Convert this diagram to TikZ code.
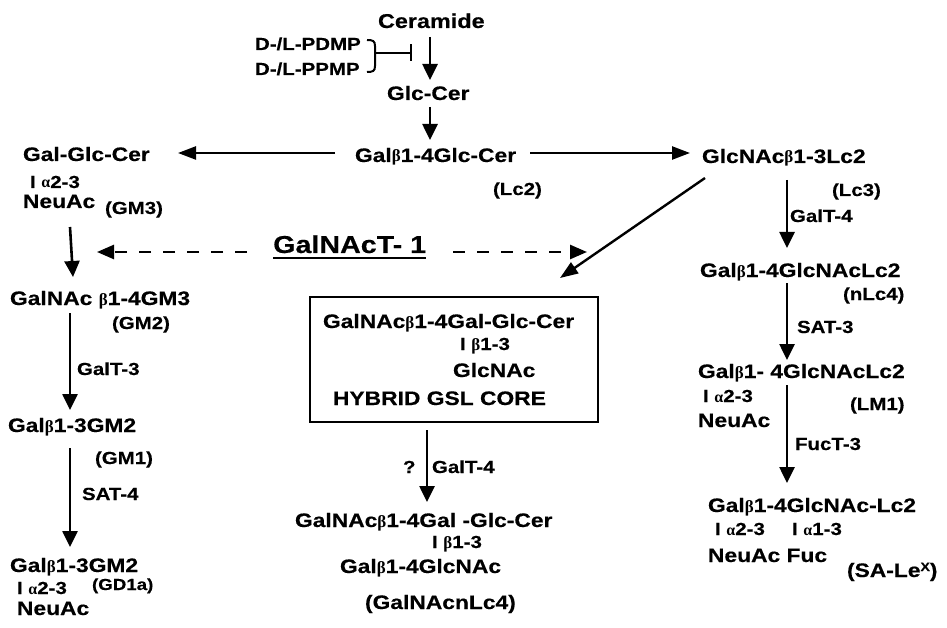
\documentclass[tikz,border=0pt]{standalone}
\usepackage{fontspec}
\setmainfont{Liberation Sans}[FakeStretch=1.17, BoldFeatures={FakeBold=0.4}]
\newfontfamily\grk{Liberation Serif}
\usetikzlibrary{arrows.meta}
\newcommand\gb{{\grk\bfseries\fontsize{17}{17}\selectfont β}}
\newcommand\ga{{\grk\bfseries\fontsize{16}{16}\selectfont α}}
\tikzset{
  big/.style={anchor=base west, inner sep=0pt, outer sep=0pt, font=\bfseries\fontsize{19.5}{21}\selectfont},
  sml/.style={anchor=base west, inner sep=0pt, outer sep=0pt, font=\bfseries\fontsize{17.5}{19}\selectfont},
  arr/.style={line width=2.6pt, -{Triangle[length=16pt,width=15pt]}},
  harr/.style={line width=2.4pt, -{Triangle[length=18pt,width=13pt]}},
  darr/.style={line width=2.6pt, dash pattern=on 12pt off 12pt, -{Triangle[length=17pt,width=14pt]}},
  corebox/.style={draw, line width=2.4pt, minimum width=288pt, minimum height=125pt, inner sep=0pt, outer sep=0pt},
}
\begin{document}
\begin{tikzpicture}[x=1pt,y=-1pt]
\useasboundingbox (0,0) rectangle (947,628);
% top
\node[big, font=\bfseries\fontsize{20}{21}\selectfont] (cer) at (378,28) {Ceramide};
\node[sml] (pdmp) at (255,50) {D-/L-PDMP};
\node[sml] (ppmp) at (255,75) {D-/L-PPMP};
\node[big] (glc) at (387,100) {Glc-Cer};
\node[big] (gal4) at (355,162) {Gal\gb1-4Glc-Cer};
\node[sml] (lc2) at (493,195) {(Lc2)};
% left column
\node[big] (galglc) at (23,161) {Gal-Glc-Cer};
\node[sml] (l1) at (30,188) {I \ga2-3};
\node[big] (neu1) at (23,208) {NeuAc};
\node[sml] (gm3) at (105,214) {(GM3)};
\node[big] (galnac) at (10,305) {GalNAc \gb1-4GM3};
\node[sml] (gm2) at (112,329) {(GM2)};
\node[sml] (galt3) at (77,375) {GalT-3};
\node[big] (gm1n) at (8,432) {Gal\gb1-3GM2};
\node[sml] (gm1) at (95,464) {(GM1)};
\node[sml] (sat4) at (82,500) {SAT-4};
\node[big] (gd) at (10,572) {Gal\gb1-3GM2};
\node[sml] (l2) at (17,594) {I \ga2-3};
\node[sml, font=\bfseries\fontsize{16}{18}\selectfont] (gd1a) at (92,590) {(GD1a)};
\node[big] (neu2) at (17,615) {NeuAc};
% enzyme
\node[anchor=base west, inner sep=0pt, font=\bfseries\fontsize{24.5}{26}\selectfont] (gnt) at (273,253) {GalNAcT- 1};
% right column
\node[big] (glcnac) at (702,163) {GlcNAc\gb1-3Lc2};
\node[sml] (lc3) at (832,196) {(Lc3)};
\node[sml] (galt4) at (790,222) {GalT-4};
\node[big] (nlc4n) at (700,277) {Gal\gb1-4GlcNAcLc2};
\node[sml] (nlc4) at (843,300) {(nLc4)};
\node[sml] (sat3) at (797,333) {SAT-3};
\node[big] (lm1n) at (698,378) {Gal\gb1- 4GlcNAcLc2};
\node[sml] (l3) at (703,402) {I \ga2-3};
\node[big] (neu3) at (698,427) {NeuAc};
\node[sml] (lm1) at (850,410) {(LM1)};
\node[sml] (fuct) at (795,450) {FucT-3};
\node[big] (salex) at (708,512) {Gal\gb1-4GlcNAc-Lc2};
\node[sml] (l4) at (715,535) {I \ga2-3};
\node[sml] (l5) at (792,535) {I \ga1-3};
\node[big] (neufuc) at (708,562) {NeuAc Fuc};
\node[big] (salx) at (847,577) {(SA-Le\raisebox{6pt}{\fontsize{12}{12}\selectfont X})};
% center
\node[corebox] (core) at (454,359.5) {};
\node[big] (c1) at (323,328) {GalNAc\gb1-4Gal-Glc-Cer};
\node[sml] (c2) at (460,350) {I \gb1-3};
\node[big] (c3) at (453,377) {GlcNAc};
\node[big] (c4) at (333,405) {HYBRID GSL CORE};
\node[sml] (q) at (403,473) {?};
\node[sml] (galt4c) at (432,473) {GalT-4};
\node[big] (b1) at (295,527) {GalNAc\gb1-4Gal -Glc-Cer};
\node[sml] (b2) at (432,548) {I \gb1-3};
\node[big] (b3) at (340,573) {Gal\gb1-4GlcNAc};
\node[big] (b4) at (365,609) {(GalNAcnLc4)};
% free ends
\coordinate (dl) at (97,252);
\coordinate (dr) at (587,252);
\coordinate (brtop) at (367,40);
\coordinate (brbot) at (367,72);
\coordinate (brmid) at (375,53);
\coordinate (inh) at (412,53);
% inhibitor bracket
\draw[line width=2pt] (brtop) .. controls (373,40) and (375,41) .. (375,46) -- (375,66) .. controls (375,71) and (373,72) .. (brbot);
\draw[line width=2.2pt, -{Bar[width=17pt]}] (brmid) -- (inh);
% connectors
\draw[arr] ([xshift=52pt,yshift=-9pt]cer.base west) -- ([xshift=43pt,yshift=20pt]glc.base west);
\draw[arr] ([xshift=43pt,yshift=-7pt]glc.base west) -- ([xshift=75pt,yshift=22pt]gal4.base west);
\draw[harr] ([xshift=-20pt,yshift=9pt]gal4.base west) -- ([xshift=155pt,yshift=8pt]galglc.base west);
\draw[harr] ([xshift=175pt,yshift=9pt]gal4.base west) -- ([xshift=-12pt,yshift=10pt]glcnac.base west);
\draw[arr] ([xshift=47pt,yshift=-19pt]neu1.base west) -- ([xshift=63pt,yshift=28pt]galnac.base west);
\draw[arr] ([xshift=60pt,yshift=-8pt]galnac.base west) -- ([xshift=62pt,yshift=22pt]gm1n.base west);
\draw[arr] ([xshift=62pt,yshift=-16pt]gm1n.base west) -- ([xshift=60pt,yshift=25pt]gd.base west);
\draw[darr] ([xshift=-26pt,yshift=1pt]gnt.base west) -- (dl);
\draw[darr] ([xshift=180pt,yshift=1pt]gnt.base west) -- (dr);
\draw[line width=2.2pt] ([yshift=-5pt]gnt.base west) -- ([yshift=-5pt]gnt.base east);
\draw[harr] ([xshift=3pt,yshift=-15pt]glcnac.base west) -- ([xshift=-38pt,yshift=19pt]core.north east);
\draw[arr] ([xshift=85pt,yshift=-17pt]glcnac.base west) -- ([xshift=87pt,yshift=29pt]nlc4n.base west);
\draw[arr] ([xshift=87pt,yshift=-6pt]nlc4n.base west) -- ([xshift=89pt,yshift=18pt]lm1n.base west);
\draw[arr] ([xshift=89pt,yshift=-7pt]lm1n.base west) -- ([xshift=79pt,yshift=29pt]salex.base west);
\draw[arr] ([xshift=117pt,yshift=-8pt]core.south west) -- ([xshift=132pt,yshift=25pt]b1.base west);
\end{tikzpicture}
\end{document}
